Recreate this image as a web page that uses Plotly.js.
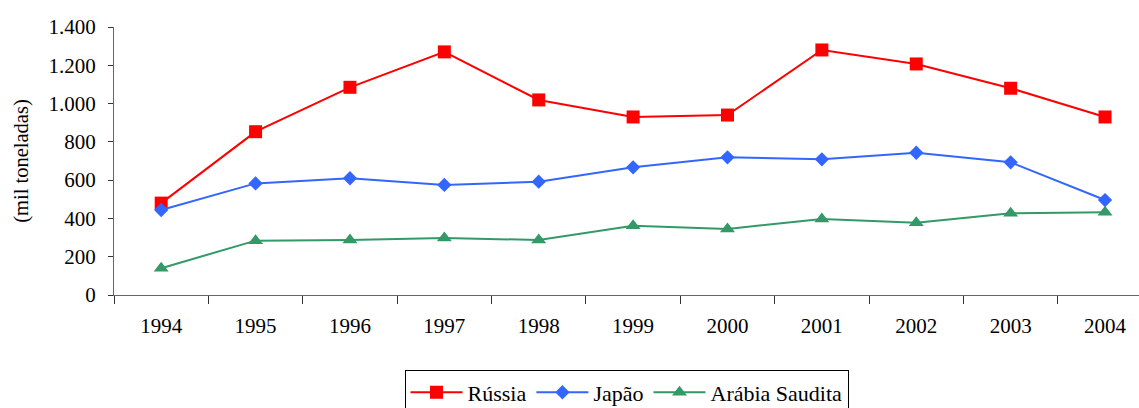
<!DOCTYPE html>
<html>
<head>
<meta charset="utf-8">
<script src="https://cdn.plot.ly/plotly-3.0.1.min.js"></script>
<style>html,body{margin:0;padding:0;background:#fff;}#chart{width:1139px;height:408px;}</style>
</head>
<body>
<div id="chart"></div>
<script>
const years = ['1994','1995','1996','1997','1998','1999','2000','2001','2002','2003','2004'];
const russia = [480, 853, 1085, 1270, 1019, 930, 940, 1280, 1207, 1080, 930];
const japao = [444, 583, 610, 575, 592, 667, 719, 709, 743, 693, 496];
const arabia = [140, 284, 287, 298, 287, 362, 345, 397, 378, 427, 432];
const yTicks = [0, 200, 400, 600, 800, 1000, 1200, 1400];

const FONT = 'Liberation Serif, Times New Roman, serif';

const traces = [
  {x: years, y: russia, name: 'Rússia', type: 'scatter', mode: 'lines+markers',
   line: {color: '#FF0000', width: 2}, marker: {symbol: 'square', size: 13, color: '#FF0000'}},
  {x: years, y: japao, name: 'Japão', type: 'scatter', mode: 'lines+markers',
   line: {color: '#3366FF', width: 2}, marker: {symbol: 'diamond', size: 11, color: '#3366FF'}},
  {x: years, y: arabia, name: 'Arábia Saudita', type: 'scatter', mode: 'lines+markers',
   line: {color: '#339966', width: 2}, marker: {symbol: 'triangle-up', size: 13, color: '#339966'}}
];

const layout = {
  width: 1139, height: 408,
  margin: {l: 114, r: 0, t: 27, b: 113},
  paper_bgcolor: '#fff', plot_bgcolor: '#fff',
  separators: ',.',
  font: {family: FONT, size: 21, color: '#000'},
  showlegend: true,
  legend: {orientation: 'h', x: 0.5, xanchor: 'center', xref: 'paper',
           y: 0.092, yanchor: 'top', yref: 'container',
           bordercolor: '#000', borderwidth: 1, bgcolor: '#fff',
           font: {family: FONT, size: 22}, itemwidth: 52, traceorder: 'normal'},
  xaxis: {type: 'category', range: [-0.5, 10.36], tickson: 'boundaries',
          ticks: 'outside', ticklen: 8, tickcolor: '#333', showgrid: false,
          showline: true, linecolor: '#666', linewidth: 1, zeroline: false,
          tickfont: {family: FONT, size: 21}, ticklabelstandoff: 12, fixedrange: true},
  yaxis: {range: [0, 1400], tickvals: yTicks, tickformat: ',d',
          ticks: 'outside', ticklen: 5, tickcolor: '#333', showgrid: false,
          showline: true, linecolor: '#666', linewidth: 1, zeroline: false,
          tickfont: {family: FONT, size: 21}, ticklabelstandoff: 8,
          title: {text: '(mil toneladas)', font: {family: FONT, size: 20.5}, standoff: 14}}
};

Plotly.newPlot('chart', traces, layout, {staticPlot: true, displayModeBar: false});
</script>
</body>
</html>
